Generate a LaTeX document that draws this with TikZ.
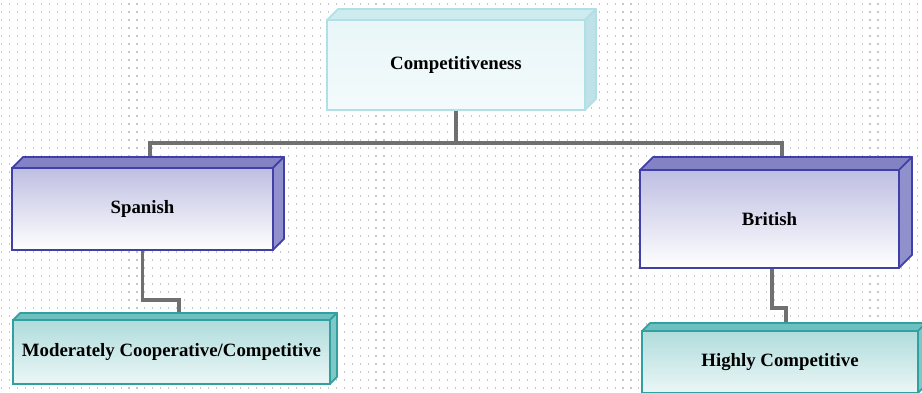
\documentclass[tikz,border=0pt]{standalone}
\usepackage{fontspec}
\setmainfont{Liberation Serif}
\pgfdeclarelayer{dots}
\pgfdeclarelayer{lines}
\pgfsetlayers{dots,lines,main}

\definecolor{gridgray}{RGB}{200,200,200}
\definecolor{linkgray}{RGB}{112,112,112}
% pale cyan slab
\definecolor{cyanedge}{RGB}{176,224,230}
\definecolor{cyantop}{RGB}{206,236,240}
\definecolor{cyanside}{RGB}{190,226,232}
\definecolor{cyanfront}{RGB}{232,246,248}
% blue-violet slab
\definecolor{violetedge}{RGB}{64,64,168}
\definecolor{violettop}{RGB}{130,130,196}
\definecolor{violetside}{RGB}{144,144,204}
\definecolor{violetfront}{RGB}{190,190,226}
% teal slab
\definecolor{tealedge}{RGB}{48,160,160}
\definecolor{tealtop}{RGB}{110,192,192}
\definecolor{tealside}{RGB}{128,200,200}
\definecolor{tealfront}{RGB}{176,220,220}

\tikzset{
  label font/.style={font=\fontsize{10.7}{12}\selectfont\bfseries},
  slab/.style={rectangle, outer sep=0pt, inner sep=2pt, line width=1pt, label font},
  cyanslab/.style={slab, draw=cyanedge, top color=cyanfront, bottom color=cyanfront!50!white},
  violetslab/.style={slab, draw=violetedge, top color=violetfront, bottom color=white},
  tealslab/.style={slab, draw=tealedge, top color=tealfront, bottom color=tealfront!25!white},
  link/.style={draw=linkgray, line width=2pt},
}

% top and right faces of a slab node: #1 node, #2 depth, #3 top, #4 side, #5 edge
\newcommand\slabfaces[5]{%
  \filldraw[fill=#3, draw=#5, line width=1pt, line join=round]
    (#1.north west) -- ([shift={(#2,-#2)}]#1.north west)
    -- ([shift={(#2,-#2)}]#1.north east) -- (#1.north east) -- cycle;
  \filldraw[fill=#4, draw=#5, line width=1pt, line join=round]
    (#1.north east) -- ([shift={(#2,-#2)}]#1.north east)
    -- ([shift={(#2,-#2)}]#1.south east) -- (#1.south east) -- cycle;
}

\begin{document}
\begin{tikzpicture}[x=0.02cm, y=-0.02cm]
\useasboundingbox (0,0) rectangle (922,392);

% white sheet with a dotted grid
\begin{pgfonlayer}{dots}
  \fill[white] (0,0) rectangle (922,392);
  \foreach \gy in {4,12,...,388}
    \draw[gridgray, line width=0.6pt, dash pattern=on 0.6pt off 3.935pt]
      (1,\gy) -- (922,\gy);
\end{pgfonlayer}

\clip (0,0) rectangle (922,392);

% slabs
\node[cyanslab, minimum width=5.16cm, minimum height=1.8cm] (comp) at (456,65) {Competitiveness};
\slabfaces{comp}{11}{cyantop}{cyanside}{cyanedge}

\node[violetslab, minimum width=5.22cm, minimum height=1.64cm] (sp) at (142.5,209) {Spanish};
\slabfaces{sp}{11}{violettop}{violetside}{violetedge}

\node[violetslab, minimum width=5.18cm, minimum height=1.96cm] (br) at (769.5,219) {British};
\slabfaces{br}{13}{violettop}{violetside}{violetedge}

\node[tealslab, minimum width=6.34cm, minimum height=1.28cm] (mod) at (171.5,352) {Moderately Cooperative/Competitive};
\slabfaces{mod}{7}{tealtop}{tealside}{tealedge}

\node[tealslab, minimum width=5.52cm, minimum height=1.24cm] (hi) at (780,362) {Highly Competitive};
\slabfaces{hi}{8}{tealtop}{tealside}{tealedge}

% connectors
\begin{pgfonlayer}{lines}
  \coordinate (bus) at (456,143);
  \draw[link] (comp.south) -- (bus) -| ([xshift=0.15cm]sp.north);
  \draw[link] (bus) -| ([xshift=0.25cm]br.north);
  \draw[link] (sp.south) -- ++(0,50) -| ([xshift=0.15cm]mod.north);
  \draw[link] ([xshift=0.05cm]br.south) -- ++(0,40) -| ([xshift=0.12cm]hi.north);
\end{pgfonlayer}
\end{tikzpicture}
\end{document}
